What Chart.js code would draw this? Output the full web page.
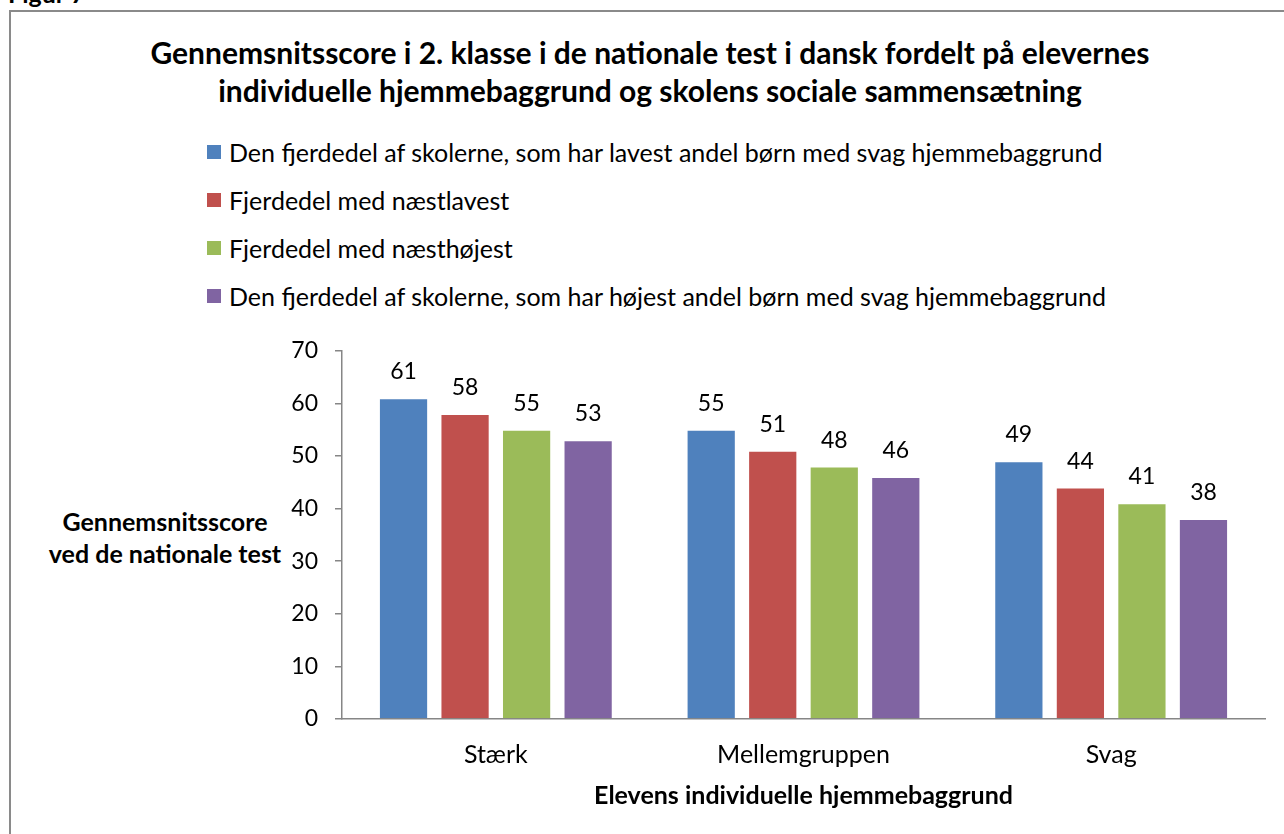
<!DOCTYPE html>
<html>
<head>
<meta charset="utf-8">
<script src="https://cdn.jsdelivr.net/npm/chart.js@4/dist/chart.umd.min.js"></script>
<style>
body { margin: 0; width: 1284px; height: 834px; overflow: hidden; background: #fff; font-family: Lato, sans-serif; color: #000; }
#fig { position: absolute; left: 8px; top: -22px; font: bold 25px Lato; }
#frame { position: absolute; left: 9px; top: 10px; width: 1320px; height: 880px; border: 2px solid #8a8a8a; box-sizing: border-box; }
#title { position: absolute; left: 9px; width: 1282px; top: 33px; text-align: center; font: bold 30px/38px Lato; }
#legend { position: absolute; left: 207px; top: 128px; font: 25px Lato; }
#legend .row { height: 48px; display: flex; align-items: center; }
#legend .box { width: 14px; height: 14px; margin-right: 8px; }
#ytitle { position: absolute; left: 20px; width: 290px; top: 505px; text-align: center; font: bold 25px/32px Lato; }
#wrap { position: absolute; left: 0; top: 320px; width: 1284px; height: 514px; }
</style>
</head>
<body>
<div id="fig">Figur 7</div>
<div id="frame"></div>
<div id="title">Gennemsnitsscore i 2. klasse i de nationale test i dansk fordelt på elevernes<br>individuelle hjemmebaggrund og skolens sociale sammensætning</div>
<div id="legend"></div>
<div id="ytitle">Gennemsnitsscore<br>ved de nationale test</div>
<div id="wrap"><canvas id="chart"></canvas></div>
<script>
const categories = ['Stærk', 'Mellemgruppen', 'Svag'];
const seriesNames = [
    'Den fjerdedel af skolerne, som har lavest andel børn med svag hjemmebaggrund',
    'Fjerdedel med næstlavest',
    'Fjerdedel med næsthøjest',
    'Den fjerdedel af skolerne, som har højest andel børn med svag hjemmebaggrund'
];
const lowestShare = [61, 55, 49];
const secondLowest = [58, 51, 44];
const secondHighest = [55, 48, 41];
const highestShare = [53, 46, 38];
const seriesColors = ['#4F81BD', '#C0504D', '#9BBB59', '#8064A2'];
const yTicks = [0, 10, 20, 30, 40, 50, 60, 70];

const allValues = [lowestShare, secondLowest, secondHighest, highestShare];

// html legend, one row per series
const legendEl = document.getElementById('legend');
seriesNames.forEach(function (name, i) {
    const row = document.createElement('div');
    row.className = 'row';
    const box = document.createElement('div');
    box.className = 'box';
    box.style.background = seriesColors[i];
    const txt = document.createElement('span');
    txt.textContent = name;
    row.appendChild(box);
    row.appendChild(txt);
    legendEl.appendChild(row);
});

const valueLabels = {
    id: 'valueLabels',
    afterDatasetsDraw(chart) {
        const ctx = chart.ctx;
        ctx.save();
        ctx.font = '23px Lato';
        ctx.fillStyle = '#000';
        ctx.textAlign = 'center';
        ctx.textBaseline = 'alphabetic';
        chart.data.datasets.forEach(function (ds, i) {
            chart.getDatasetMeta(i).data.forEach(function (bar, j) {
                ctx.fillText(ds.data[j], bar.x, bar.y - 19);
            });
        });
        ctx.restore();
    }
};

const ctx = document.getElementById('chart').getContext('2d');
const chart = new Chart(ctx, {
    type: 'bar',
    data: {
        labels: categories,
        datasets: allValues.map(function (vals, i) {
            return {
                label: seriesNames[i],
                data: vals,
                backgroundColor: seriesColors[i],
                borderColor: 'rgba(255,255,255,0.35)',
                borderWidth: 1,
                categoryPercentage: 0.8,
                barPercentage: 0.8
            };
        })
    },
    options: {
        responsive: true,
        maintainAspectRatio: false,
        animation: false,
        layout: { padding: { top: 22, right: 19, bottom: 0, left: 0 } },
        plugins: {
            legend: { display: false },
            title: { display: false },
            tooltip: { enabled: false }
        },
        scales: {
            x: {
                afterFit: function (scale) { scale.height = 115; },
                grid: { display: true, drawOnChartArea: false, drawTicks: false },
                border: { color: '#868686', width: 1.5 },
                ticks: { color: '#000', font: { family: 'Lato', size: 25 }, padding: 21 },
                title: {
                    display: true,
                    text: 'Elevens individuelle hjemmebaggrund',
                    color: '#000',
                    font: { family: 'Lato', size: 25, weight: 'bold' },
                    padding: { top: 0, bottom: 23 }
                }
            },
            y: {
                min: 0,
                max: 70,
                afterFit: function (scale) { scale.width = 342; },
                afterBuildTicks: function (scale) {
                    scale.ticks = yTicks.map(function (v) { return { value: v }; });
                },
                grid: { drawOnChartArea: false, drawTicks: true, tickLength: 7, color: '#868686', lineWidth: 1.5 },
                border: { color: '#868686', width: 1.5 },
                ticks: { color: '#000', font: { family: 'Lato', size: 23 }, padding: 17 }
            }
        }
    },
    plugins: [valueLabels]
});
</script>
</body>
</html>
